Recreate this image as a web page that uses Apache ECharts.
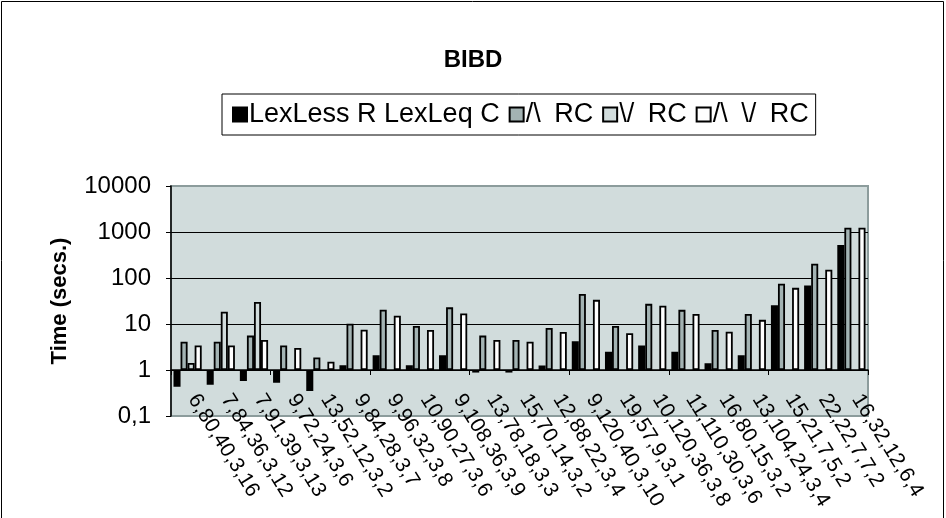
<!DOCTYPE html>
<html>
<head>
<meta charset="utf-8">
<style>
  html, body { margin: 0; padding: 0; background: #ffffff; }
  #chart { width: 946px; height: 518px; }
</style>
<script src="https://cdn.jsdelivr.net/npm/echarts@6/dist/echarts.min.js"></script>
</head>
<body>
<div id="chart"></div>
<script>
// BIBD instances (v,b,r,k,lambda)
const categories = [
  "6,80,40,3,16", "7,84,36,3,12", "7,91,39,3,13", "9,72,24,3,6", "13,52,12,3,2",
  "9,84,28,3,7", "9,96,32,3,8", "10,90,27,3,6", "9,108,36,3,9", "13,78,18,3,3",
  "15,70,14,3,2", "12,88,22,3,4", "9,120,40,3,10", "19,57,9,3,1", "10,120,36,3,8",
  "11,110,30,3,6", "16,80,15,3,2", "13,104,24,3,4", "15,21,7,5,2", "22,22,7,7,2",
  "16,32,12,6,4"
];

const seriesNames = ["LexLess R LexLeq C", "/\\ RC", "\\/ RC", "/\\ \\/ RC"];

// run times in seconds
const lexLessLexLeq = [0.43, 0.48, 0.58, 0.53, 0.35, 1.27, 2.1, 1.27, 2.1, 0.88,
  0.88, 1.26, 4.2, 2.5, 3.4, 2.5, 1.4, 2.1, 25.5, 69, 520];
const andRC = [4.1, 4.1, 5.6, 3.4, 1.87, 10.1, 20.4, 9.1, 23, 5.6,
  4.5, 8.2, 45, 9.1, 27.4, 20.3, 7.4, 16.6, 75, 204, 1240];
const orRC = [1.42, 18.4, 30, null, null, null, null, null, null, null,
  null, null, null, null, null, null, null, null, null, null, null];
const andOrRC = [3.4, 3.4, 4.5, 3.0, 1.52, 7.5, 15.2, 7.45, 17, 4.5,
  4.1, 6.7, 33.5, 6.3, 25, 16.6, 6.8, 12.3, 61, 151, 1240];

const yTicks = [0.1, 1, 10, 100, 1000, 10000];
const yTickLabels = ["0,1", "1", "10", "100", "1000", "10000"];

const plotBg = "#d1dcdc";
const fills = ["#000000", "#a3b3b3", plotBg, "#ffffff"];
const values = [lexLessLexLeq, andRC, orRC, andOrRC];

const FONT = "'Liberation Sans', Arial, sans-serif";

// the connective names get slightly wider word spaces in the legend
function legendLabel(name) {
  if (name.indexOf("/") < 0) return "{t|" + name + "}";
  return name.split(" ").map(w => "{t|" + w + "}").join("{sp| }");
}

const chart = echarts.init(document.getElementById("chart"), null, { renderer: "canvas" });

const series = seriesNames.map((name, i) => ({
  name: name,
  type: "bar",
  xAxisIndex: 0,
  yAxisIndex: 0,
  data: values[i],
  barGap: "0%",
  barCategoryGap: "15%",
  itemStyle: { color: fills[i], borderColor: "#000000", borderWidth: 1.8 },
  emphasis: { disabled: true },
  animation: false
}));

const legendText = { fontFamily: FONT, fontSize: 27, color: "#000" };

chart.setOption({
  animation: false,
  backgroundColor: "#ffffff",
  graphic: [{
    type: "rect",
    shape: { x: 1.5, y: 1.5, width: 942, height: 540 },
    style: { fill: null, stroke: "#000000", lineWidth: 1 },
    silent: true,
    z: 100
  }],
  title: {
    text: "BIBD",
    left: "center",
    top: 43,
    textStyle: { fontFamily: FONT, fontWeight: "bold", fontSize: 24, color: "#000" }
  },
  legend: {
    data: seriesNames,
    left: 222,
    top: 94,
    width: 620,
    padding: [7, 7, 7, 10],
    borderColor: "#000000",
    borderWidth: 1,
    itemWidth: 14,
    itemHeight: 14,
    itemGap: 9,
    icon: "rect",
    selectedMode: false,
    formatter: legendLabel,
    textStyle: {
      fontFamily: FONT, fontSize: 27, color: "#000", padding: [0, 0, 0, -3],
      rich: {
        t: legendText,
        sp: Object.assign({ padding: [0, 3, 0, 3] }, legendText)
      }
    }
  },
  grid: [{
    left: 171, top: 186, width: 697, height: 230,
    show: true,
    backgroundColor: plotBg,
    borderColor: "#8c9c9c",
    borderWidth: 2
  }, {
    // companion grid carrying the category labels, nudged right
    left: 176, top: 186, width: 697, height: 230,
    show: false
  }],
  xAxis: [{
    type: "category",
    gridIndex: 0,
    data: categories,
    position: "bottom",
    offset: -46,
    axisLine: { show: true, lineStyle: { color: "#000", width: 1.5 } },
    axisTick: { show: true, length: 5, lineStyle: { color: "#000", width: 1 } },
    axisLabel: { show: false },
    splitLine: { show: false }
  }, {
    type: "category",
    gridIndex: 1,
    data: categories,
    position: "bottom",
    axisLine: { show: false },
    axisTick: { show: false },
    axisLabel: {
      interval: 0,
      rotate: -58,
      margin: -20,
      fontFamily: FONT,
      fontSize: 21,
      color: "#000"
    },
    splitLine: { show: false }
  }],
  yAxis: [{
    type: "log",
    gridIndex: 0,
    logBase: 10,
    min: 0.1,
    max: 10000,
    name: "Time (secs.)",
    nameLocation: "middle",
    nameRotate: 90,
    nameGap: 100,
    nameTextStyle: { fontFamily: FONT, fontWeight: "bold", fontSize: 22, color: "#000" },
    axisLine: { show: true, lineStyle: { color: "#000", width: 1.5 } },
    axisTick: { show: true, length: 5, lineStyle: { color: "#000" } },
    axisLabel: {
      margin: 20,
      fontFamily: FONT,
      fontSize: 24,
      color: "#000",
      formatter: function (v) {
        const idx = yTicks.findIndex(t => Math.abs(t - v) / t < 1e-6);
        return idx >= 0 ? yTickLabels[idx] : "";
      }
    },
    splitLine: {
      show: true,
      lineStyle: { color: ["#8c9c9c", "#000", "#000", "#000", "#000", "#8c9c9c"], width: 1.2 }
    }
  }, {
    type: "log",
    gridIndex: 1,
    min: 0.1,
    max: 10000,
    show: false
  }],
  series: series
});
</script>
</body>
</html>
